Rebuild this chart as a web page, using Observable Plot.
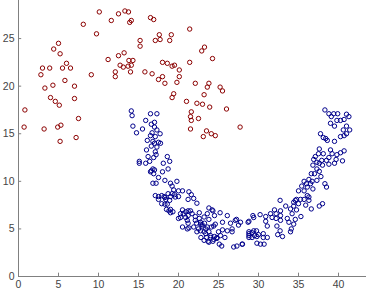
<!DOCTYPE html>
<html><head><meta charset="utf-8">
<script src="https://cdn.jsdelivr.net/npm/d3@7"></script>
<script src="https://cdn.jsdelivr.net/npm/@observablehq/plot@0.6"></script>
<style>body{margin:0;background:#fff} svg{display:block}</style>
</head><body><div id="chart"></div>
<script>
const xTicks = [0, 5, 10, 15, 20, 25, 30, 35, 40];
const yTicks = [0, 5, 10, 15, 20, 25];

const redPoints = [
[10.1,27.8],[8.1,26.5],[9.75,25.5],[5.0,24.5],[4.4,23.9],[5.2,23.4],[6.0,22.4],[3.0,21.9],[3.9,21.9],[5.5,21.9],
[6.5,21.9],[2.8,21.2],[9.1,21.2],[5.8,20.6],[4.3,20.1],[7.0,20.0],[3.3,19.8],[4.0,18.8],[7.0,18.7],[4.6,18.4],
[5.1,18.0],[0.8,17.5],[7.5,16.6],[0.7,15.7],[3.2,15.5],[4.9,15.7],[5.3,15.9],[7.2,14.6],[5.2,14.2],[11.2,22.8],
[12.1,21.5],[12.1,21.0],[12.5,23.2],[13.2,23.5],[12.7,22.2],[13.1,22.0],[13.7,22.1],[13.8,22.7],[11.6,26.9],[12.5,27.6],
[13.3,27.9],[13.9,26.7],[13.75,27.8],[14.1,26.9],[16.5,27.2],[16.9,27.0],[21.4,26.0],[15.2,24.8],[15.2,24.2],[17.6,25.4],
[17.1,24.8],[17.7,24.9],[19.1,25.4],[18.9,24.8],[23.25,24.1],[22.9,23.7],[24.25,22.9],[14.3,22.7],[14.1,22.2],[14.0,21.5],
[18.0,22.5],[18.6,22.4],[19.2,22.1],[19.5,22.2],[21.4,22.5],[20.1,21.7],[15.8,21.5],[16.7,21.3],[17.5,20.7],[18.0,21.0],
[20.1,21.0],[18.3,20.3],[19.8,20.4],[22.1,20.3],[23.8,20.3],[23.6,19.9],[25.2,19.9],[25.5,19.5],[19.4,19.2],[19.2,18.8],
[23.2,19.1],[21.0,18.4],[22.3,18.2],[23.0,18.1],[23.9,17.8],[26.0,17.6],[21.6,17.3],[21.5,16.8],[22.5,16.6],[21.6,16.4],
[27.7,15.7],[21.5,15.5],[23.5,15.3],[24.1,15.0],[24.6,14.8],[23.1,14.7]
];

const bluePoints = [
[14.1,17.4],[14.2,16.9],[14.3,15.8],[14.75,15.1],[15.5,15.5],[15.9,16.4],[16.5,17.1],[17.3,17.1],[17.0,16.2],[16.6,16.0],
[17.0,15.7],[17.3,15.4],[16.7,15.1],[17.7,15.0],[16.5,14.8],[17.1,14.7],[16.1,14.3],[16.8,14.2],[17.5,14.1],[17.0,14.0],
[17.75,14.0],[16.6,13.7],[17.3,13.6],[16.0,13.3],[17.1,13.1],[17.2,12.8],[16.9,12.5],[16.2,12.6],[18.6,12.6],[18.9,12.1],
[15.1,12.1],[15.1,11.9],[15.9,11.9],[16.4,12.1],[18.1,11.9],[16.8,11.3],[16.6,11.1],[17.0,11.2],[18.0,11.0],[18.7,11.3],
[16.9,10.8],[17.5,10.4],[18.3,10.1],[16.5,11.0],
[16.8,9.8],[17.2,9.8],[19.0,9.8],[19.8,10.0],[19.2,9.5],[19.4,9.1],[20.0,9.0],[20.5,9.0],[21.3,8.9],[21.6,8.6],
[19.5,8.6],[19.0,8.4],[18.2,8.4],[17.5,8.4],[17.5,8.1],[18.4,8.1],[18.9,8.0],[20.0,8.4],[21.2,8.1],[21.9,8.2],
[17.9,7.65],[18.3,7.6],[22.3,7.7],[23.8,7.2],[24.2,7.0],[18.5,7.05],[19.0,7.05],[19.3,6.8],[19.0,6.7],[20.5,7.0],
[21.2,6.9],[20.6,6.6],[21.7,6.6],[22.6,6.7],[20.25,6.2],[20.9,6.2],[21.2,6.4],[22.1,6.3],[25.2,6.7],[24.5,6.4],
[26.1,6.4],[27.25,6.0],[27.75,5.7],[20.0,6.1],[21.1,5.9],[22.6,6.1],[23.8,6.0],[25.5,5.7],[26.5,5.6],[27.5,5.4],
[22.25,5.6],[22.75,5.5],[23.25,5.6],[20.5,5.2],[21.3,5.1],[21.9,5.2],[22.5,5.0],[22.95,5.3],[23.6,5.2],[24.4,5.3],
[22.3,4.7],[22.75,4.8],[23.2,4.7],[23.8,4.7],[25.5,4.9],[26.1,4.8],[26.7,5.0],[22.8,4.1],[23.5,4.1],[24.0,4.1],
[24.5,4.2],[24.8,4.1],[25.25,4.3],[25.8,4.1],[23.2,3.8],[23.7,3.7],[24.4,3.9],[25.1,3.4],[25.4,3.2],[26.9,3.1],
[27.3,3.2],[28.0,3.4],[28.7,5.7],[28.8,4.7],[28.8,4.3],
[17.1,8.5],[17.9,8.5],[18.3,8.3],[18.7,8.7],[19.2,8.7],[19.6,8.35],[18.6,7.6],[18.8,6.9],[20.9,6.8],[21.5,6.9],
[20.25,6.6],[21.2,5.6],[22.1,5.9],[22.75,5.7],[23.2,6.25],[24.3,6.9],[23.6,6.6],[21.1,5.0],[22.95,5.45],[23.4,5.0],
[24.1,5.2],[24.6,5.5],[23.4,4.5],[24.0,4.3],[25.0,4.7],[23.8,3.6],[24.3,3.7],[24.8,4.0],
[27.1,5.9],[26.7,4.7],[29.3,6.4],[29.8,4.2],[34.6,8.0],[36.1,8.5],
[38.3,17.5],[38.8,17.1],[39.1,16.8],[39.4,17.1],[39.9,17.1],[39.8,16.4],[40.25,16.4],[40.7,16.5],[41.0,17.05],[41.3,16.8],
[39.0,16.1],[39.5,15.8],[41.0,15.8],[41.4,15.4],[40.6,15.4],[41.0,15.0],[40.7,14.8],[37.75,15.0],[38.1,14.6],[38.4,14.5],
[38.6,14.3],[39.5,14.2],[40.25,14.7],[37.6,13.4],[37.5,12.9],[38.1,12.9],[39.0,13.3],[39.2,12.9],[39.8,12.8],[40.25,13.0],
[40.7,13.2],[37.1,12.6],[36.9,12.3],[37.9,12.2],[38.5,12.2],[38.8,12.5],[39.7,12.3],[40.5,12.15],[37.3,12.0],[37.6,11.9],
[36.8,11.7],[38.0,11.7],[38.8,11.8],[39.5,11.9],[37.3,11.3],[37.6,11.05],[36.6,10.8],[37.0,10.8],[37.8,10.5],[36.3,10.2],
[35.7,10.0],[36.7,10.0],[37.3,10.1],[36.0,9.75],[36.5,9.75],[38.3,9.75],[35.4,9.5],[36.1,9.4],[36.8,9.2],[38.5,9.4],
[35.0,9.0],[35.7,9.0],[32.7,8.0],[34.75,8.1],[35.25,8.1],[35.7,8.1],[36.3,8.35],[36.3,8.0],[34.4,7.8],[35.0,7.65],
[35.9,7.5],[36.6,7.1],[37.6,7.4],[38.0,7.65],[33.4,7.4],[34.4,7.4],[34.0,7.1],[34.75,7.0],[32.0,7.0],[32.75,6.9],
[31.5,6.6],[32.2,6.6],[32.75,6.4],[34.2,6.6],[30.9,6.3],[31.7,6.2],[35.3,6.3],[30.2,6.5],[29.4,6.2],[28.8,5.8],
[30.9,5.8],[32.2,6.1],[32.75,5.9],[33.6,6.1],[34.6,6.0],[33.8,5.7],[34.4,5.5],[32.3,5.3],[31.1,5.3],[29.4,4.8],
[29.75,4.8],[29.2,4.6],[28.8,4.5],[29.5,4.3],[30.0,4.4],[30.6,4.5],[28.8,4.1],[29.2,4.1],[30.6,4.1],[31.1,4.1],
[32.4,4.4],[32.7,4.8],[33.0,4.2],[34.0,4.7],[34.1,5.0],[29.8,3.5],[30.25,3.4],[30.7,3.4],[27.95,3.4]
];

const axisColor = "#808080";
const chart = Plot.plot({
  width: 366, height: 293,
  marginLeft: 18, marginBottom: 17, marginTop: 0, marginRight: 0,
  style: {fontFamily: "Arial, 'Liberation Sans', sans-serif", fontSize: "10.5px", background: "#fff", overflow: "visible"},
  x: {domain: [0, 43.5]},
  y: {domain: [0, 29]},
  marks: [
    Plot.ruleX(xTicks, {x: d => d, y1: 0, y2: 0.35, stroke: axisColor}),
    Plot.ruleY(yTicks, {y: d => d, x1: 0, x2: 0.4, stroke: axisColor}),
    Plot.ruleY([0], {stroke: axisColor}),
    Plot.ruleX([0], {stroke: axisColor}),
    Plot.axisX(xTicks, {tickSize: 0, tickPadding: 4, fill: "#444", tickFormat: d => String(d)}),
    Plot.axisY(yTicks, {tickSize: 0, tickPadding: 4, fill: "#444", tickFormat: d => String(d)}),
    Plot.dot(redPoints, {x: d => d[0], y: d => d[1], r: 2.2, stroke: "#8b0000", strokeWidth: 1}),
    Plot.dot(bluePoints, {x: d => d[0], y: d => d[1], r: 2.2, stroke: "#00008b", strokeWidth: 1})
  ]
});
document.getElementById("chart").appendChild(chart);
</script>
</body></html>
